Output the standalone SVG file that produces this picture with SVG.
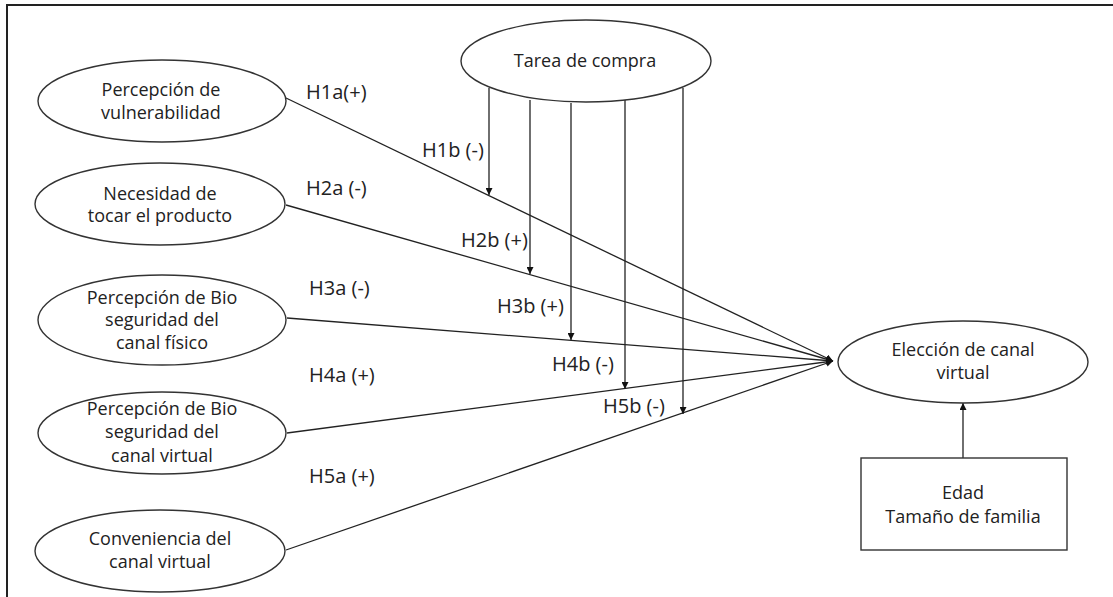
<svg xmlns="http://www.w3.org/2000/svg" width="1113" height="597" viewBox="0 0 1113 597">
  <defs>
    <marker id="arrow" viewBox="0 0 10 10" refX="10" refY="5" markerWidth="7" markerHeight="7" markerUnits="userSpaceOnUse" orient="auto">
      <path d="M0,0 L10,5 L0,10 z" fill="#111"/>
    </marker>
  </defs>
  <style>
    .node { fill: #fff; stroke: #333; stroke-width: 1.4; }
    .txt { font-family: "Open Sans", "Noto Sans", sans-serif; font-size: 18px; fill: #222; text-anchor: middle; }
    .lbl { font-family: "Open Sans", "Noto Sans", sans-serif; font-size: 20px; fill: #222; }
    .edge { stroke: #222; stroke-width: 1.3; fill: none; }
    .frame { stroke: #222; stroke-width: 2; fill: none; }
  </style>
  <rect x="0" y="0" width="1113" height="597" fill="#fff"/>
  <!-- outer frame: top and left rules only -->
  <path class="frame" d="M7,597 V5 H1113"/>

  <g id="connectors">
    <line class="edge" x1="286" y1="98" x2="833" y2="361" marker-end="url(#arrow)"/>
    <line class="edge" x1="286" y1="205" x2="833" y2="361" marker-end="url(#arrow)"/>
    <line class="edge" x1="287" y1="318" x2="833" y2="361" marker-end="url(#arrow)"/>
    <line class="edge" x1="287" y1="433" x2="833" y2="361" marker-end="url(#arrow)"/>
    <line class="edge" x1="286" y1="550" x2="833" y2="361" marker-end="url(#arrow)"/>
    <line class="edge" x1="489" y1="88" x2="489" y2="195" marker-end="url(#arrow)"/>
    <line class="edge" x1="530" y1="100" x2="530" y2="274" marker-end="url(#arrow)"/>
    <line class="edge" x1="571" y1="103" x2="571" y2="340" marker-end="url(#arrow)"/>
    <line class="edge" x1="625" y1="100" x2="625" y2="389" marker-end="url(#arrow)"/>
    <line class="edge" x1="683" y1="88" x2="683" y2="414" marker-end="url(#arrow)"/>
    <line class="edge" x1="963" y1="458" x2="963" y2="403" marker-end="url(#arrow)"/>
  </g>

  <g id="labels">
    <text class="lbl" x="306" y="99">H1a(+)</text>
    <text class="lbl" x="306" y="195">H2a (-)</text>
    <text class="lbl" x="309" y="295">H3a (-)</text>
    <text class="lbl" x="309" y="382">H4a (+)</text>
    <text class="lbl" x="309" y="483">H5a (+)</text>
    <text class="lbl" x="422" y="157">H1b (-)</text>
    <text class="lbl" x="461" y="247">H2b (+)</text>
    <text class="lbl" x="497" y="313">H3b (+)</text>
    <text class="lbl" x="552" y="371">H4b (-)</text>
    <text class="lbl" x="603" y="413">H5b (-)</text>
  </g>

  <g id="vulnerabilidad">
    <ellipse class="node" cx="162" cy="101" rx="124" ry="41"/>
    <text class="txt" x="161" y="96">Percepción de</text>
    <text class="txt" x="161" y="119">vulnerabilidad</text>
  </g>
  <g id="tocar">
    <ellipse class="node" cx="160" cy="204" rx="125" ry="41"/>
    <text class="txt" x="160" y="200">Necesidad de</text>
    <text class="txt" x="160" y="222">tocar el producto</text>
  </g>
  <g id="bio-fisico">
    <ellipse class="node" cx="162" cy="320" rx="124" ry="45"/>
    <text class="txt" x="162" y="304">Percepción de Bio</text>
    <text class="txt" x="162" y="326">seguridad del</text>
    <text class="txt" x="162" y="349">canal físico</text>
  </g>
  <g id="bio-virtual">
    <ellipse class="node" cx="162" cy="433" rx="124" ry="41"/>
    <text class="txt" x="162" y="415">Percepción de Bio</text>
    <text class="txt" x="162" y="438">seguridad del</text>
    <text class="txt" x="162" y="462">canal virtual</text>
  </g>
  <g id="conveniencia">
    <ellipse class="node" cx="160" cy="551" rx="125" ry="41"/>
    <text class="txt" x="160" y="545">Conveniencia del</text>
    <text class="txt" x="160" y="568">canal virtual</text>
  </g>
  <g id="tarea">
    <ellipse class="node" cx="586" cy="61" rx="125" ry="41"/>
    <text class="txt" x="585" y="67">Tarea de compra</text>
  </g>
  <g id="eleccion">
    <ellipse class="node" cx="963" cy="362" rx="125" ry="41"/>
    <text class="txt" x="963" y="356">Elección de canal</text>
    <text class="txt" x="963" y="379">virtual</text>
  </g>
  <g id="controles">
    <rect class="node" x="861" y="458" width="206" height="92"/>
    <text class="txt" x="963" y="499">Edad</text>
    <text class="txt" x="963" y="523">Tamaño de familia</text>
  </g>
</svg>
